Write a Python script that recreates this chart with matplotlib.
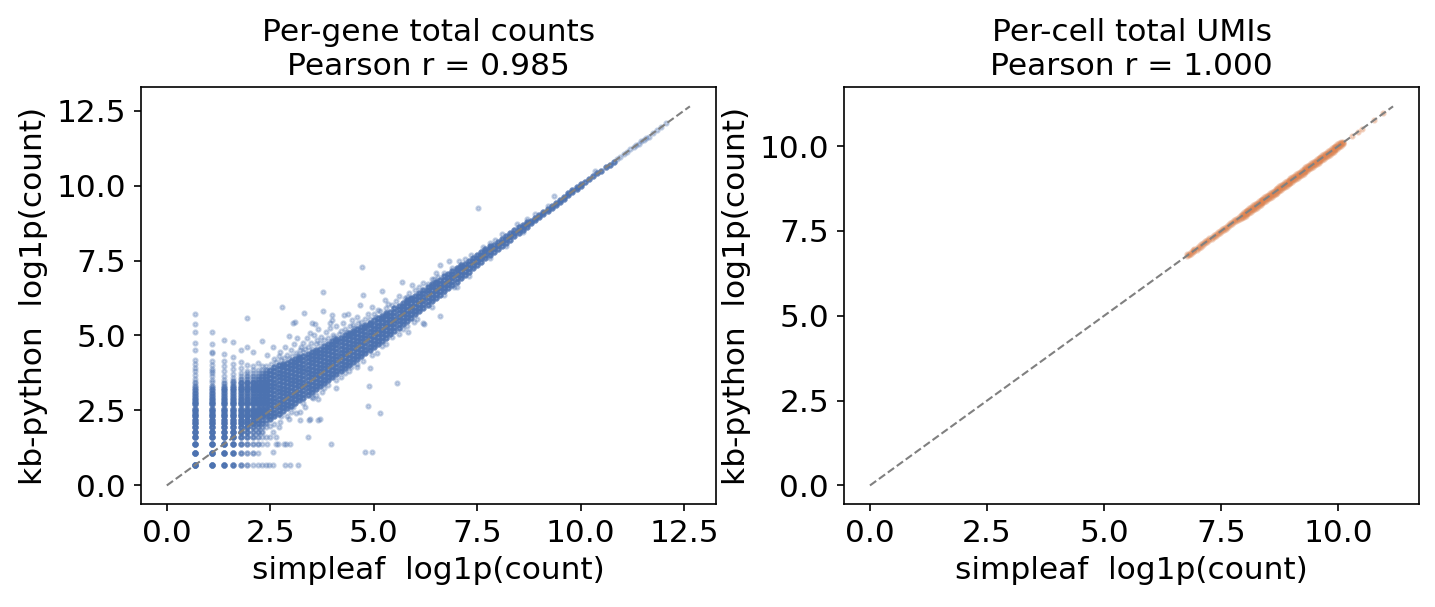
import numpy as np
import matplotlib
matplotlib.use("Agg")
import matplotlib.pyplot as plt
from matplotlib.ticker import MultipleLocator

plt.rcParams['font.family'] = ['DejaVu Sans']
plt.rcParams['font.size'] = 15

# ---------------- Left panel: per-gene totals ----------------
# low-count genes: simpleaf count, kb-python counts seen, number of genes at each pair
low_simpleaf = [1, 2, 3, 4, 5, 6, 7, 8, 9, 10]
low_kb = [
    [1,2,3,4,5,6,7,8,9,10,11,12,14,15,17,19,21,23,25,27,29,31,34,39,44,50,56,64,89,113,163,220,307],
    [1,2,3,4,5,6,7,8,9,10,11,12,14,15,17,19,21,23,25,27,30,33,37,41,44,48,54,62,81,85,109,163],
    [1,2,3,4,5,6,7,8,9,10,11,12,14,15,17,19,21,23,25,27,29,33,38,45,52,62,80,127],
    [1,2,3,4,5,6,7,8,9,10,11,12,14,15,17,19,21,23,25,27,29,32,35,40,47,56,72,118],
    [1,2,3,4,5,6,7,8,9,10,11,12,14,15,17,19,21,23,25,27,29,31,34,37,42,50,60,91],
    [1,2,3,4,5,6,7,8,9,10,11,12,14,15,17,19,21,23,25,27,29,31,34,37,41,45,55,101,262],
    [1,2,3,4,5,6,7,8,9,10,11,12,14,15,17,19,21,23,25,27,29,31,34,37,41,46,52,84],
    [1,2,3,4,5,6,7,8,9,10,11,12,14,15,17,19,21,23,25,27,29,31,34,37,41,46,58],
    [1,3,4,5,6,7,8,9,10,11,12,14,15,17,19,21,23,25,27,29,31,34,37,41,46,52,121],
    [1,4,6,7,8,9,10,11,12,14,15,17,19,21,23,25,27,29,31,34,37,41,46,52],
]
low_genes = [
    [12,10,9,8,8,7,7,6,6,5,5,5,5,5,5,4,4,3,2,2,1,1,1,1,1,1,1,1,1,1,1,1,1],
    [9,10,9,8,8,7,7,6,6,5,5,5,5,5,5,4,4,3,2,2,1,1,1,1,1,1,1,1,1,1,1,1],
    [7,8,9,8,8,7,7,6,6,5,5,5,5,5,5,4,4,4,3,2,2,1,1,1,1,1,1,1],
    [5,6,7,8,8,7,7,6,6,5,5,5,5,5,5,4,4,4,3,3,2,2,1,1,1,1,1,1],
    [3,3,4,5,6,6,6,6,6,5,5,5,5,5,5,4,4,4,4,3,3,2,2,1,1,1,1,1],
    [2,2,3,4,5,6,6,6,6,5,5,5,5,5,5,4,4,4,4,3,3,3,2,2,1,1,1,1,1],
    [1,2,2,3,3,4,5,5,5,5,5,5,5,5,5,4,4,4,4,4,3,3,2,2,1,1,1,1],
    [1,1,2,2,3,3,4,4,5,5,5,5,5,5,5,4,4,4,4,4,3,3,3,2,1,1,1],
    [1,1,1,2,2,3,3,4,5,5,5,5,5,5,5,4,4,4,4,4,3,3,3,2,1,1,1],
    [1,1,1,2,2,3,4,5,5,5,5,5,5,5,5,4,4,4,4,4,3,3,2,1],
]

# dense band (log1p units): simpleaf value and kb-python values at it
band_x = [2.5, 2.6, 2.7, 2.8, 2.9,
          3.0, 3.1, 3.2, 3.3, 3.4, 3.5, 3.6, 3.7, 3.8, 3.9,
          4.0, 4.1, 4.2, 4.3, 4.4, 4.5, 4.6, 4.7, 4.8, 4.9,
          5.0, 5.1, 5.2, 5.3, 5.4, 5.5, 5.6, 5.7, 5.8, 5.9,
          6.0, 6.1, 6.2, 6.3, 6.4, 6.5, 6.6, 6.7, 6.8, 6.9,
          7.0, 7.1, 7.2, 7.3, 7.4, 7.5, 7.6, 7.7, 7.8, 7.9,
          8.0, 8.1, 8.2, 8.3, 8.4, 8.5, 8.6, 8.7, 8.8, 8.9,
          9.0, 9.1, 9.2, 9.3, 9.4, 9.5, 9.6, 9.7, 9.8, 9.9,
          10.0, 10.1, 10.2, 10.3, 10.4, 10.5, 10.6, 10.7, 10.8]
band_y = [
    [2.21,2.33,2.46,2.58,2.7,2.83,2.95,3.07,3.2,3.33,3.45,3.58,3.71,3.86],
    [2.3,2.42,2.55,2.67,2.8,2.92,3.05,3.17,3.3,3.42,3.55,3.67,3.8,3.94],
    [2.39,2.51,2.64,2.76,2.89,3.01,3.14,3.26,3.39,3.51,3.64,3.76,3.89,4.0],
    [2.48,2.6,2.73,2.85,2.98,3.1,3.23,3.35,3.48,3.6,3.73,3.85,3.97,4.06],
    [2.57,2.69,2.82,2.94,3.07,3.19,3.32,3.44,3.57,3.69,3.82,3.94,4.08],
    [2.66,2.78,2.91,3.03,3.16,3.28,3.41,3.53,3.66,3.78,3.91,4.03,4.15],
    [2.75,2.87,3.0,3.12,3.25,3.37,3.5,3.62,3.75,3.87,4.0,4.12,4.22],
    [2.84,2.96,3.09,3.21,3.34,3.46,3.59,3.71,3.84,3.96,4.09,4.2,4.28],
    [2.93,3.05,3.18,3.3,3.43,3.55,3.68,3.8,3.93,4.05,4.18,4.32],
    [3.02,3.14,3.27,3.39,3.52,3.64,3.77,3.89,4.02,4.14,4.27,4.39],
    [3.11,3.23,3.36,3.48,3.61,3.73,3.86,3.98,4.11,4.23,4.36,4.45],
    [3.2,3.32,3.45,3.57,3.7,3.82,3.95,4.07,4.2,4.32,4.44,4.53],
    [3.3,3.42,3.55,3.67,3.8,3.92,4.05,4.17,4.3,4.42,4.55],
    [3.4,3.52,3.65,3.77,3.9,4.02,4.15,4.27,4.4,4.52,4.65],
    [3.5,3.62,3.75,3.87,4.0,4.12,4.25,4.37,4.5,4.62,4.73],
    [3.6,3.72,3.85,3.97,4.1,4.22,4.35,4.47,4.6,4.72,4.8],
    [3.7,3.82,3.95,4.07,4.2,4.32,4.45,4.57,4.7,4.82,4.88],
    [3.8,3.92,4.05,4.17,4.3,4.42,4.55,4.67,4.8,4.93],
    [3.9,4.02,4.15,4.27,4.4,4.52,4.65,4.77,4.9,5.01],
    [4.0,4.12,4.25,4.37,4.5,4.62,4.75,4.87,5.0,5.08],
    [4.1,4.22,4.35,4.47,4.6,4.72,4.85,4.97,5.08,5.15],
    [4.2,4.32,4.45,4.57,4.7,4.82,4.95,5.07,5.21],
    [4.3,4.42,4.55,4.67,4.8,4.92,5.05,5.17,5.29],
    [4.4,4.52,4.65,4.77,4.9,5.02,5.15,5.27,5.36],
    [4.5,4.62,4.75,4.87,5.0,5.12,5.25,5.37,5.43],
    [4.6,4.72,4.85,4.97,5.1,5.22,5.35,5.5],
    [4.71,4.83,4.96,5.08,5.21,5.33,5.46,5.58],
    [4.82,4.94,5.07,5.19,5.32,5.44,5.57,5.66],
    [4.93,5.05,5.18,5.3,5.43,5.55,5.68,5.74],
    [5.04,5.16,5.29,5.41,5.54,5.66,5.79],
    [5.15,5.27,5.4,5.52,5.65,5.77,5.9],
    [5.26,5.38,5.51,5.63,5.76,5.88,5.99],
    [5.37,5.49,5.62,5.74,5.87,5.99,6.08],
    [5.48,5.6,5.73,5.85,5.98,6.1,6.17],
    [5.59,5.71,5.84,5.96,6.09,6.21,6.26],
    [5.7,5.82,5.95,6.07,6.2,6.33],
    [5.81,5.93,6.06,6.18,6.31,6.43],
    [5.92,6.04,6.17,6.29,6.42,6.52],
    [6.03,6.15,6.28,6.4,6.53,6.62],
    [6.14,6.26,6.39,6.51,6.64,6.71],
    [6.25,6.37,6.5,6.62,6.75,6.8],
    [6.36,6.48,6.61,6.73,6.86],
    [6.47,6.59,6.72,6.84,6.97],
    [6.58,6.7,6.83,6.95,7.06],
    [6.69,6.81,6.94,7.06,7.15],
    [6.8,6.92,7.05,7.17,7.25],
    [6.91,7.03,7.16,7.28,7.34],
    [7.02,7.14,7.27,7.39],
    [7.13,7.25,7.38,7.5],
    [7.24,7.36,7.49,7.6],
    [7.35,7.47,7.6,7.7],
    [7.46,7.58,7.7,7.79],
    [7.57,7.69,7.81,7.89],
    [7.68,7.8,7.92,7.98],
    [7.79,7.91,8.03],
    [7.89,8.01,8.13],
    [7.99,8.11,8.23],
    [8.1,8.22,8.33],
    [8.2,8.32,8.43],
    [8.31,8.42,8.53],
    [8.41,8.52,8.62],
    [8.52,8.63,8.7],
    [8.62,8.73,8.8],
    [8.75,8.83],
    [8.85,8.93],
    [8.95,9.03],
    [9.06,9.13],
    [9.16,9.23],
    [9.26,9.33],
    [9.36,9.43],
    [9.46,9.53],
    [9.56,9.63],
    [9.67,9.74],
    [9.77,9.84],
    [9.87,9.94],
    [9.97,10.04],
    [10.12],
    [10.21],
    [10.31],
    [10.41],
    [10.5],
    [10.61],
    [10.7],
    [10.8],
]
band_genes_each = 4

# high-count tail along the diagonal
tail_x = [10.88,10.96,11.04,11.12,11.20,11.28,11.34,11.40,11.46,11.52,11.58,11.64,11.74,11.85,11.95,12.07]
tail_y = [10.89,10.95,11.05,11.11,11.21,11.27,11.35,11.39,11.47,11.51,11.59,11.63,11.75,11.84,11.96,12.07]

# scattered genes above the band (kb-python higher)
above_x = [2.79,3.32,3.78,4.72,7.53,3.78,3.98,4.00,4.27,4.39,
           4.48,4.75,4.67,4.97,5.21,5.27,5.69,5.93,6.40,6.60,
           6.50,6.83,7.06,7.05,3.10,3.06,3.58,3.50,2.96,2.57,
           2.43,2.76,3.22,3.30,3.46,3.94,5.11,5.80,7.92,8.70,
           9.36,10.35,
           2.52,2.60,2.65,2.70,2.74,2.82,2.85,2.90,2.95,3.00,
           3.02,3.08,3.12,3.15,3.18,3.25,3.28,3.35,3.38,3.42,
           3.48,3.52,3.55,3.60,3.62,3.66,3.70,3.72,3.80,3.85,
           3.90,3.95,4.02,4.05,4.10,4.15,4.20,4.25,4.30,4.35,
           4.42,4.50,4.55,4.60,4.62,4.70,4.78,4.85,4.90,5.00,
           5.05,5.15,5.30,5.35,5.45,5.55,5.60,5.75,5.85,6.00,
           6.10,6.20,6.30,6.45,6.55,6.70,6.90,7.20,7.35,7.65,
           7.80,8.10,8.45,8.90,9.20]
above_y = [5.94,5.74,6.46,7.27,9.24,5.82,5.68,5.51,5.68,5.70,
           5.52,6.35,6.01,5.94,6.48,6.18,6.77,6.68,6.88,7.35,
           7.10,7.48,7.48,7.29,5.46,5.40,5.38,5.40,4.99,4.62,
           4.35,4.18,4.51,4.74,5.07,5.40,5.84,6.29,8.20,8.88,
           9.65,10.47,
           4.05,4.20,4.10,4.30,4.45,4.25,4.60,4.35,4.20,4.50,
           4.33,4.70,4.40,4.90,4.35,4.60,4.45,4.55,4.90,4.60,
           4.75,4.55,5.00,4.70,4.85,5.20,4.75,4.95,4.85,5.10,
           4.90,5.25,5.00,4.95,5.30,5.05,5.15,5.40,5.20,5.12,
           5.30,5.35,5.25,5.60,5.40,5.45,5.55,5.70,5.55,5.70,
           5.62,5.80,5.90,6.05,6.00,6.15,6.30,6.25,6.40,6.50,
           6.60,6.75,6.72,6.90,6.95,7.10,7.25,7.55,7.70,7.95,
           8.10,8.38,8.72,9.05,9.33]

# scattered genes below the band (simpleaf higher)
below_x = [3.22,3.43,3.65,3.22,3.46,3.69,3.42,3.97,4.79,4.97,
           4.85,5.14,4.89,5.56,4.08,5.07,5.98,6.20,5.82,6.60,
           6.22,6.93,4.59,4.91,3.66,3.54,3.74,3.05,3.13,2.90,
           2.73,2.49,2.41,2.69,2.89,2.57,2.85,2.98,3.16,2.48,
           2.56,2.64,2.83,2.98,2.49,2.63,3.30,3.50,3.80,3.90,
           4.10,4.30,4.40,4.60,4.75,4.95,5.20,5.30,5.45,5.60,
           5.70,6.05,6.40,6.70,7.00,7.30,7.80,8.20,8.60,2.60,
           2.75,3.00,2.95,2.56,2.71,3.35,3.60,4.20,4.45,5.80]
below_y = [2.46,2.18,2.18,2.18,2.20,2.20,1.61,1.39,1.10,1.10,
           2.64,2.40,3.30,3.43,3.26,4.40,5.46,5.40,5.12,5.65,
           5.38,6.63,3.96,3.90,2.87,2.90,3.10,2.63,2.40,2.30,
           2.13,1.97,1.39,1.39,1.39,1.10,0.69,0.69,0.69,0.69,
           0.69,1.39,1.39,1.39,1.61,1.61,2.75,2.95,3.25,3.35,
           3.50,3.75,3.80,4.05,4.15,4.35,4.65,4.70,4.95,5.05,
           5.20,5.55,5.95,6.35,6.60,7.00,7.60,8.00,8.45,2.05,
           2.30,2.45,2.20,1.79,1.95,2.62,3.02,3.62,3.95,5.30]

gene_r = 0.985

# ---------------- Right panel: per-cell totals ----------------
cell_low_x = [6.78,6.81,6.85,6.90,6.93,6.98,7.03,7.07,7.12,7.16,7.20,7.25,7.30,7.34,
              7.38,7.43,7.47,7.52,7.56,7.60,7.65,7.69,7.73,7.78,7.82,7.86,7.90]
cell_low_y = [[6.76,6.81],[6.79,6.83],[6.82,6.88],[6.87,6.93],[6.91,6.96],[6.95,7.01],[7.00,7.06],
              [7.04,7.10],[7.09,7.15],[7.13,7.19],[7.17,7.23],[7.22,7.28],[7.27,7.33],[7.31,7.37],
              [7.35,7.41],[7.40,7.46],[7.44,7.50],[7.49,7.55],[7.53,7.59],[7.57,7.63],[7.62,7.68],
              [7.66,7.72],[7.70,7.76],[7.75,7.81],[7.79,7.85],[7.83,7.89],[7.86,7.93]]
cell_mid_x = [7.94,7.98,8.02,8.06,8.10,8.14,8.18,8.22,8.26,8.30,8.34,8.38,8.42,8.46,
              8.50,8.54,8.58,8.62,8.66,8.70,8.74,8.78,8.82,8.86,8.90,8.94,8.98,9.02,
              9.06,9.10,9.14,9.18,9.22,9.26,9.30,9.34,9.38,9.42,9.46,9.50,9.54,9.58,
              9.62,9.66,9.70,9.74,9.78,9.82,9.86,9.90,9.94,9.98,10.02,10.06,10.10]
cell_mid_y = [
    [7.87,7.92,7.96,8.01],[7.91,7.96,8.00,8.05],[7.95,8.00,8.04,8.09],[7.99,8.04,8.08,8.13],
    [8.03,8.08,8.12,8.17],[8.07,8.12,8.16,8.21],[8.11,8.16,8.20,8.25],[8.15,8.20,8.24,8.29],
    [8.19,8.24,8.28,8.33],[8.23,8.28,8.32,8.37],[8.27,8.32,8.36,8.41],[8.31,8.36,8.40,8.45],
    [8.35,8.40,8.44,8.49],[8.39,8.44,8.48,8.53],[8.43,8.48,8.52,8.57],[8.47,8.52,8.56,8.61],
    [8.51,8.56,8.60,8.65],[8.55,8.60,8.64,8.69],[8.59,8.64,8.68,8.73],[8.63,8.68,8.72,8.77],
    [8.67,8.72,8.76,8.81],[8.71,8.76,8.80,8.85],[8.75,8.80,8.84,8.89],[8.79,8.84,8.88,8.93],
    [8.83,8.88,8.92,8.97],[8.87,8.92,8.96,9.01],[8.91,8.96,9.00,9.05],[8.95,9.00,9.04,9.09],
    [8.99,9.04,9.08,9.13],[9.03,9.08,9.12,9.17],[9.07,9.12,9.16,9.21],[9.11,9.16,9.20,9.25],
    [9.15,9.20,9.24,9.29],[9.19,9.24,9.28,9.33],[9.23,9.28,9.32,9.37],[9.27,9.32,9.36,9.41],
    [9.31,9.36,9.40,9.45],[9.35,9.40,9.44,9.49],[9.39,9.44,9.48,9.53],[9.43,9.48,9.52,9.57],
    [9.47,9.52,9.56,9.61],[9.51,9.56,9.60,9.65],[9.55,9.60,9.64,9.69],[9.59,9.64,9.68,9.73],
    [9.63,9.68,9.72,9.77],[9.67,9.72,9.76,9.81],[9.71,9.76,9.80,9.85],[9.75,9.80,9.84,9.89],
    [9.79,9.84,9.88,9.93],[9.83,9.88,9.92,9.97],[9.87,9.92,9.96,10.01],[9.91,9.96,10.00,10.05],
    [9.96,10.00,10.04,10.08],[10.01,10.05,10.08,10.11],[10.06,10.09,10.12],
]
cell_top_x = [10.30,10.42,10.50,10.77,10.95]
cell_top_y = [10.31,10.41,10.51,10.76,10.96]

cell_r = 1.000

# ---------------- assemble ----------------
gx, gy = [], []
for a, kbs, ns in zip(low_simpleaf, low_kb, low_genes):
    for b, n in zip(kbs, ns):
        gx += [np.log1p(a)] * n
        gy += [np.log1p(b)] * n
for x, ys in zip(band_x, band_y):
    for y in ys:
        gx += [x] * band_genes_each
        gy += [y] * band_genes_each
gx += above_x + below_x + tail_x
gy += above_y + below_y + tail_y

cx, cy = [], []
for x, ys in list(zip(cell_low_x, cell_low_y)) + list(zip(cell_mid_x, cell_mid_y)):
    for y in ys:
        cx.append(x)
        cy.append(y)
cx += cell_top_x
cy += cell_top_y

fig, (ax1, ax2) = plt.subplots(1, 2, figsize=(1435 / 150, 607 / 150), dpi=150)
fig.subplots_adjust(left=0.098, right=0.989, bottom=0.169, top=0.856, wspace=0.222)

panels = [
    (ax1, gx, gy, '#4C72B0', f"Per-gene total counts\nPearson r = {gene_r:.3f}"),
    (ax2, cx, cy, '#DD8452', f"Per-cell total UMIs\nPearson r = {cell_r:.3f}"),
]
for ax, xs, ys, col, title in panels:
    ax.scatter(xs, ys, s=4, alpha=0.3, color=col, linewidths=1.0, edgecolors='face')
    lim = max(ax.get_xlim()[1], ax.get_ylim()[1])
    ax.plot([0, lim], [0, lim], ls='--', color='gray', lw=1)
    ax.xaxis.set_major_locator(MultipleLocator(2.5))
    ax.yaxis.set_major_locator(MultipleLocator(2.5))
    ax.set_xlabel("simpleaf  log1p(count)")
    ax.set_ylabel("kb-python  log1p(count)")
    ax.set_title(title, fontsize=15)

fig.savefig("out.png", dpi=150)
